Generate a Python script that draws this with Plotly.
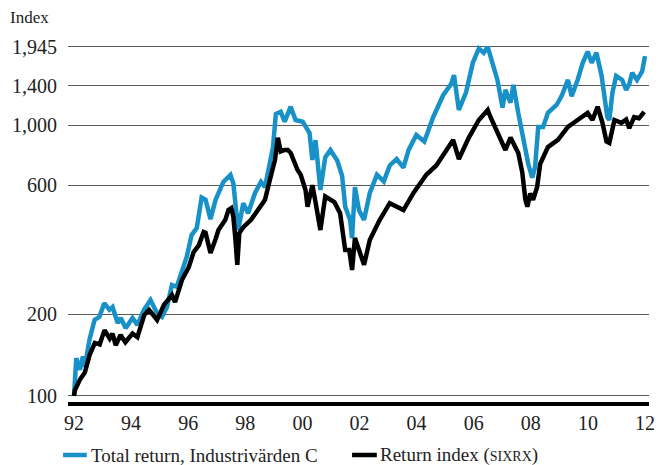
import plotly.graph_objects as go
import math

# ---- data (decimal years, index level) ----
blue_year = [1992.00, 1992.08, 1992.21, 1992.31, 1992.38, 1992.54, 1992.72, 1992.89, 1993.06, 1993.24,
             1993.35, 1993.53, 1993.64, 1993.81, 1994.05, 1994.22, 1994.45, 1994.68, 1994.91, 1995.08,
             1995.26, 1995.43, 1995.60, 1995.78, 1995.95, 1996.12, 1996.30, 1996.47, 1996.61, 1996.78,
             1996.96, 1997.23, 1997.48, 1997.58, 1997.68, 1997.75, 1997.93, 1998.10, 1998.34, 1998.55,
             1998.69, 1998.79, 1998.97, 1999.07, 1999.24, 1999.38, 1999.59, 1999.76, 2000.01, 2000.25,
             2000.35, 2000.46, 2000.63, 2000.80, 2000.98, 2001.22, 2001.39, 2001.50, 2001.67, 2001.74,
             2001.84, 2001.98, 2002.16, 2002.36, 2002.61, 2002.85, 2003.06, 2003.30, 2003.54, 2003.72,
             2003.99, 2004.27, 2004.58, 2004.93, 2005.21, 2005.31, 2005.48, 2005.73, 2005.97, 2006.18,
             2006.35, 2006.49, 2006.66, 2006.83, 2007.01, 2007.11, 2007.29, 2007.39, 2007.56, 2007.74,
             2007.91, 2008.05, 2008.15, 2008.26, 2008.43, 2008.60, 2008.91, 2009.09, 2009.30, 2009.43,
             2009.64, 2009.82, 2009.99, 2010.13, 2010.30, 2010.48, 2010.58, 2010.68, 2010.75, 2010.86,
             2010.99, 2011.20, 2011.34, 2011.45, 2011.55, 2011.72, 2011.90, 2012.00]
blue_val = [100, 138, 125, 140, 128, 161, 191, 196, 220, 208,
            213, 186, 194, 178, 194, 183, 208, 226, 202, 196,
            213, 257, 253, 292, 327, 393, 417, 540, 530, 450,
            530, 617, 655, 610, 467, 410, 515, 473, 562, 617,
            590, 670, 830, 1100, 1120, 1030, 1170, 1045, 1030, 935,
            744, 880, 576, 760, 810, 740, 650, 500, 447, 383,
            590, 486, 447, 562, 656, 620, 710, 750, 697, 810,
            920, 870, 1070, 1290, 1420, 1530, 1138, 1320, 1700, 1920,
            1850, 1945, 1700, 1469, 1160, 1349, 1210, 1410, 1110, 882,
            720, 640, 700, 985, 985, 1110, 1190, 1290, 1469, 1280,
            1469, 1700, 1870, 1700, 1850, 1520, 1239, 1070, 1045, 1320,
            1520, 1469, 1349, 1420, 1560, 1469, 1580, 1800]

black_year = [1992.00, 1992.03, 1992.21, 1992.38, 1992.55, 1992.73, 1992.90, 1993.07, 1993.25, 1993.35,
              1993.46, 1993.63, 1993.80, 1994.05, 1994.22, 1994.46, 1994.63, 1994.91, 1995.15, 1995.43,
              1995.54, 1995.78, 1996.02, 1996.19, 1996.37, 1996.54, 1996.61, 1996.78, 1996.96, 1997.06,
              1997.30, 1997.41, 1997.51, 1997.58, 1997.65, 1997.72, 1997.79, 1997.93, 1998.20, 1998.55,
              1998.69, 1998.86, 1999.04, 1999.14, 1999.24, 1999.38, 1999.49, 1999.59, 1999.73, 1999.83,
              1999.94, 2000.11, 2000.18, 2000.35, 2000.46, 2000.63, 2000.80, 2000.98, 2001.12, 2001.32,
              2001.50, 2001.64, 2001.74, 2001.84, 2002.02, 2002.16, 2002.36, 2002.71, 2003.06, 2003.30,
              2003.54, 2003.89, 2004.34, 2004.69, 2005.03, 2005.28, 2005.48, 2005.83, 2006.18, 2006.49,
              2006.59, 2006.83, 2006.94, 2007.11, 2007.29, 2007.39, 2007.56, 2007.70, 2007.81, 2007.88,
              2007.98, 2008.08, 2008.22, 2008.33, 2008.60, 2008.95, 2009.30, 2009.64, 2009.99, 2010.16,
              2010.34, 2010.51, 2010.65, 2010.75, 2010.93, 2011.17, 2011.34, 2011.45, 2011.62, 2011.79,
              2011.97]
black_val = [100, 105, 115, 122, 142, 157, 155, 175, 163, 170,
             154, 168, 158, 170, 165, 199, 208, 191, 217, 236,
             222, 268, 299, 340, 360, 403, 400, 337, 380, 410,
             447, 486, 494, 460, 383, 305, 400, 420, 447, 500,
             530, 628, 744, 898, 800, 810, 810, 790, 720, 683,
             656, 576, 500, 600, 520, 410, 545, 530, 520, 473,
             346, 346, 292, 383, 337, 305, 377, 447, 515, 500,
             486, 562, 656, 710, 810, 882, 750, 900, 1045, 1138,
             1070, 935, 882, 810, 900, 850, 790, 670, 530, 500,
             560, 530, 590, 720, 830, 882, 985, 1045, 1110, 1045,
             1170, 1020, 870, 860, 1045, 1020, 1050, 975, 1070, 1060,
             1120]

y_ticks = [100, 200, 600, 1000, 1400, 1945]
y_tick_text = ["100", "200", "600", "1,000", "1,400", "1,945"]
x_ticks = [1992, 1994, 1996, 1998, 2000, 2002, 2004, 2006, 2008, 2010, 2012]
x_tick_text = ["92", "94", "96", "98", "00", "02", "04", "06", "08", "10", "12"]

series_names = ["Total return, Industrivärden C", "Return index (<span style='font-size:14px'>SIXRX</span>)"]
BLUE = "#1791c8"
BLACK = "#000000"
FONT = "Liberation Serif"

fig = go.Figure()
fig.add_trace(go.Scatter(x=blue_year, y=blue_val, mode="lines", name=series_names[0],
                         line=dict(color=BLUE, width=4.5), showlegend=False))
fig.add_trace(go.Scatter(x=black_year, y=black_val, mode="lines", name=series_names[1],
                         line=dict(color=BLACK, width=4.5), showlegend=False))

W, H = 659, 465
ml, mr, mt, mb = 68, 4, 40, 63
pw, ph = W - ml - mr, H - mt - mb

def px(xp):
    return (xp - ml) / pw

def py(yp):
    return (H - mb - yp) / ph

fig.update_layout(
    width=W, height=H,
    margin=dict(l=ml, r=mr, t=mt, b=mb),
    paper_bgcolor="white", plot_bgcolor="white",
    font=dict(family=FONT, size=20, color="#222"),
    xaxis=dict(range=[1991.79, 2012.14], tickvals=x_ticks, ticktext=x_tick_text,
               showgrid=False, zeroline=False, showline=True, linecolor="black", linewidth=3.5,
               ticks="", ticklabelstandoff=0, ticklabeloverflow="allow",
               tickfont=dict(size=20, family=FONT, color="#222")),
    yaxis=dict(type="log", range=[math.log10(95), math.log10(2063)], tickvals=y_ticks,
               ticktext=y_tick_text, showgrid=True, gridcolor="#5a5a5a", gridwidth=1.4,
               zeroline=False, showline=False, ticks="", ticklabelstandoff=10,
               tickfont=dict(size=20, family=FONT, color="#222")),
)

fig.add_annotation(text="Index", xref="paper", yref="paper", x=px(7), y=py(17),
                   xanchor="left", yanchor="middle", showarrow=False,
                   font=dict(size=17, family=FONT, color="#222"))

# manual legend
leg_y = py(455)
fig.add_shape(type="line", xref="paper", yref="paper", x0=px(63), x1=px(87), y0=leg_y, y1=leg_y,
              line=dict(color=BLUE, width=4.5))
fig.add_annotation(text=series_names[0], xref="paper", yref="paper", x=px(89), y=leg_y,
                   xanchor="left", yanchor="middle", showarrow=False,
                   font=dict(size=19, family=FONT, color="#222"))
fig.add_shape(type="line", xref="paper", yref="paper", x0=px(355), x1=px(380), y0=leg_y, y1=leg_y,
              line=dict(color=BLACK, width=4.5))
fig.add_annotation(text=series_names[1], xref="paper", yref="paper", x=px(381), y=leg_y,
                   xanchor="left", yanchor="middle", showarrow=False,
                   font=dict(size=19, family=FONT, color="#222"))

fig.write_html("out.html")
